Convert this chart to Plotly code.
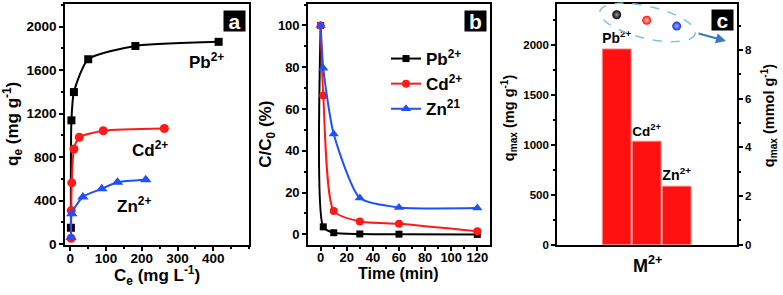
import math
import plotly.graph_objects as go

# ---------------- data ----------------
# panel a: adsorption isotherms
pb_ce = [1.5, 3, 10, 50, 182, 415]
pb_qe = [150, 1138, 1398, 1700, 1822, 1860]
cd_ce = [2, 2.5, 4, 10, 25, 92, 263]
cd_qe = [54, 308, 563, 874, 982, 1042, 1063]
zn_ce = [2, 4, 35, 88, 132, 211]
zn_qe = [60, 280, 434, 509, 569, 592]

# panel b: kinetics
t_min = [0, 2, 10, 30, 60, 120]
pb_c = [100, 3.6, 0.8, 0.2, 0.1, 0.0]
cd_c = [100, 66.5, 11.2, 6.2, 5.1, 1.5]
zn_c = [100, 79.5, 48.0, 17.4, 12.9, 12.6]

# panel c: qmax
metals = ["Pb<sup>2+</sup>", "Cd<sup>2+</sup>", "Zn<sup>2+</sup>"]
qmax = [1957, 1034, 584]

W, H = 783, 295
def PX(x):
    return x / W
def PY(y):
    return 1 - y / H

BLACK = "#000000"
RED = "#ff1a1a"
BLUE = "#1f4fff"
FONT = "Liberation Sans, Arial, sans-serif"

fig = go.Figure()

# panel a traces
for xs, ys, col, sym, sz in [(pb_ce, pb_qe, BLACK, "square", 8),
                             (cd_ce, cd_qe, RED, "circle", 9),
                             (zn_ce, zn_qe, BLUE, "triangle-up", 10)]:
    fig.add_trace(go.Scatter(x=xs, y=ys, mode="lines+markers", xaxis="x", yaxis="y",
                             line=dict(color=col, width=2, shape="spline", smoothing=0.6),
                             marker=dict(color=col, symbol=sym, size=sz),
                             showlegend=False))

# panel b traces
for ys, col, sym, sz, name in [(pb_c, BLACK, "square", 7, "Pb<sup>2+</sup>"),
                               (cd_c, RED, "circle", 8, "Cd<sup>2+</sup>"),
                               (zn_c, BLUE, "triangle-up", 9, "Zn<sup>21</sup>")]:
    fig.add_trace(go.Scatter(x=t_min, y=ys, mode="lines+markers", xaxis="x2", yaxis="y2",
                             line=dict(color=col, width=2, shape="spline", smoothing=0.6),
                             marker=dict(color=col, symbol=sym, size=sz),
                             name=name, showlegend=True))

# panel c bars
fig.add_trace(go.Bar(x=metals, y=qmax, xaxis="x3", yaxis="y3",
                     marker=dict(color="#ff1111", line=dict(color="#ff8080", width=1)),
                     text=metals, textposition="outside", cliponaxis=False,
                     textfont=dict(size=15, color="black", family=FONT, weight="bold"),
                     showlegend=False))

# empty trace so that the right-hand (mmol) axis is drawn
fig.add_trace(go.Scatter(x=metals, y=[None, None, None], xaxis="x3", yaxis="y4",
                         mode="markers", showlegend=False, hoverinfo="skip"))

# decorative spheres (panel c)
fig.add_trace(go.Scatter(x=metals, y=[2300, 2245, 2186], xaxis="x3", yaxis="y3",
                         mode="markers",
                         marker=dict(size=9, color=["#000000", "#ff1010", "#1030e0"],
                                     gradient=dict(type="radial", color=["#9a9a9a", "#ffc0c0", "#a8b4ff"]),
                                     line=dict(width=0)),
                         showlegend=False, hoverinfo="skip"))

ydom = [PY(251), PY(4)]
axcommon = dict(showline=True, linecolor="black", linewidth=1.6, mirror=True,
                showgrid=False, zeroline=False, ticks="outside", ticklen=4,
                tickwidth=1.5, tickcolor="black")

fig.update_layout(
    width=W, height=H, margin=dict(l=0, r=0, t=0, b=0),
    paper_bgcolor="white", plot_bgcolor="white",
    font=dict(family=FONT, color="black", weight="bold"),
    bargap=0.044,
    xaxis=dict(domain=[PX(65), PX(249)], anchor="y", range=[-15, 500], ticklabelstandoff=-4,
               tickvals=[0, 100, 200, 300, 400], tickfont=dict(size=13.5, weight="bold"),
               minor=dict(ticks="outside", ticklen=2.5, dtick=50, tickcolor="black"), **axcommon),
    yaxis=dict(domain=ydom, anchor="x", range=[-9, 2209],
               tickvals=[0, 400, 800, 1200, 1600, 2000], tickfont=dict(size=13.5, weight="bold"),
               minor=dict(ticks="outside", ticklen=2.5, dtick=200, tickcolor="black"), **axcommon),
    xaxis2=dict(domain=[PX(308), PX(490)], anchor="y2", range=[-9.7, 129.7], ticklabelstandoff=-4,
                tickvals=[0, 20, 40, 60, 80, 100, 120], tickfont=dict(size=13, weight="bold"),
                minor=dict(ticks="outside", ticklen=2.5, dtick=10, tickcolor="black"), **axcommon),
    yaxis2=dict(domain=ydom, anchor="x2", range=[-5.1, 110.3],
                tickvals=[0, 20, 40, 60, 80, 100], tickfont=dict(size=13, weight="bold"),
                minor=dict(ticks="outside", ticklen=2.5, dtick=10, tickcolor="black"), **axcommon),
    xaxis3=dict(domain=[PX(557), PX(737)], anchor="y3", range=[-1.99, 4.01],
                showticklabels=False, showline=True, linecolor="black", linewidth=1.6,
                mirror=True, showgrid=False, zeroline=False, ticks=""),
    yaxis3=dict(domain=ydom, anchor="x3", range=[-5, 2408],
                tickvals=[0, 500, 1000, 1500, 2000], tickfont=dict(size=11.5, weight="bold"),
                minor=dict(ticks="outside", ticklen=2.5, dtick=250, tickcolor="black"),
                showline=True, linecolor="black", linewidth=1.6, mirror=False,
                showgrid=False, zeroline=False, ticks="outside", ticklen=4,
                tickwidth=1.5, tickcolor="black"),
    yaxis4=dict(domain=ydom, anchor="x3", overlaying="y3", side="right", range=[-0.02, 9.9],
                tickvals=[0, 2, 4, 6, 8], tickfont=dict(size=11.5, weight="bold"),
                minor=dict(ticks="outside", ticklen=2.5, dtick=1, tickcolor="black"),
                showline=True, linecolor="black", linewidth=1.6,
                showgrid=False, zeroline=False, ticks="outside", ticklen=4,
                tickwidth=1.5, tickcolor="black"),
    legend=dict(x=PX(386), y=PY(42), xanchor="left", yanchor="top",
                bgcolor="rgba(0,0,0,0)", font=dict(size=17, weight="bold"),
                tracegroupgap=0, itemwidth=30),
)

ann = []
def text(x, y, s, size, angle=0, color="black"):
    ann.append(dict(x=PX(x), y=PY(y), xref="paper", yref="paper", text=s, showarrow=False,
                    xanchor="center", yanchor="middle", textangle=angle,
                    font=dict(size=size, color=color, family=FONT, weight="bold")))

# axis titles
text(13, 127, "q<sub>e</sub> (mg g<sup>-1</sup>)", 17, -90)
text(157, 282, "C<sub>e</sub> (mg L<sup>-1</sup>)", 17)
text(267, 138, "C/C<sub>0</sub> (%)", 17, -90)
text(398, 280, "Time (min)", 16)
text(509, 121, "q<sub>max</sub> (mg g<sup>-1</sup>)", 14.5, -90)
text(769, 118, "q<sub>max</sub> (mmol g<sup>-1</sup>)", 14.5, -90)
text(647, 271, "M<sup>2+</sup>", 18)

# panel a series labels
text(206, 62, "Pb<sup>2+</sup>", 17)
text(150, 153, "Cd<sup>2+</sup>", 17)
text(134, 210, "Zn<sup>2+</sup>", 17)

# panel letters
for cx, cy, s in [(234.5, 21, "a"), (475, 21, "b"), (722.5, 20.5, "c")]:
    ann.append(dict(x=PX(cx), y=PY(cy), xref="paper", yref="paper", text=s, showarrow=False,
                    xanchor="center", yanchor="middle", bgcolor="black", width=21, height=20,
                    borderpad=0, font=dict(size=21, color="white", family=FONT, weight="bold")))

# arrow in panel c
ann.append(dict(x=PX(726), y=PY(42), xref="paper", yref="paper", ax=-29, ay=-8,
                text="", showarrow=True, arrowhead=2, arrowsize=1, arrowwidth=2,
                arrowcolor="#3a78c2"))
fig.update_layout(annotations=ann)

# dashed ellipse in panel c
cx, cy, a, b, phi = 647.5, 23, 49, 16.4, math.radians(13.6)
pts = []
for k in range(73):
    th = 2 * math.pi * k / 72
    x = cx + a * math.cos(th) * math.cos(phi) - b * math.sin(th) * math.sin(phi)
    y = cy + a * math.cos(th) * math.sin(phi) + b * math.sin(th) * math.cos(phi)
    pts.append((PX(x), PY(y)))
path = "M " + " L ".join(f"{x:.5f},{y:.5f}" for x, y in pts) + " Z"
fig.add_shape(type="path", path=path, xref="paper", yref="paper",
              line=dict(color="#7fc0e8", width=1.5, dash="dash"))

fig.write_html("out.html", config={"displayModeBar": False},
               post_script="document.body.style.margin='0px';document.body.style.overflow='hidden';")
